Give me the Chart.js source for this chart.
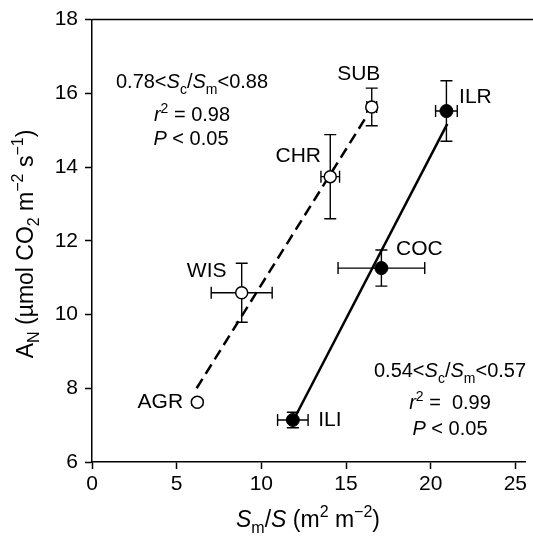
<!DOCTYPE html>
<html>
<head>
<meta charset="utf-8">
<script src="https://cdn.jsdelivr.net/npm/chart.js@4.4.0/dist/chart.umd.min.js"></script>
<style>
    html, body { margin: 0; padding: 0; background: #fff; }
</style>
</head>
<body>
<canvas id="chart" width="533" height="537"></canvas>
<script>
// Open symbols (dashed fit)
const openLabels = ['AGR', 'WIS', 'CHR', 'SUB'];
const openX = [6.22, 8.84, 14.07, 16.52];
const openY = [7.62, 10.59, 13.74, 15.63];
const openXErr = [0.12, 1.8, 0.55, 0.29];
const openYErr = [0.08, 0.8, 1.14, 0.51];

// Filled symbols (solid fit)
const filledLabels = ['ILI', 'COC', 'ILR'];
const filledX = [11.86, 17.09, 20.93];
const filledY = [7.14, 11.26, 15.52];
const filledXErr = [0.9, 2.56, 0.64];
const filledYErr = [0.21, 0.49, 0.82];

// Regression line end points
const dashedFitX = [6.18, 16.26];
const dashedFitY = [8.0, 15.41];
const solidFitX = [11.9, 20.98];
const solidFitY = [7.14, 15.17];

const xTicksStep = 5;
const yTicksStep = 2;

const FONT = "'Liberation Sans', Arial, sans-serif";

const toPoints = (xs, ys) => xs.map((x, i) => ({ x, y: ys[i] }));

// Text with italic / subscript / superscript pieces.
function drawRich(ctx, parts, x, y, size, align) {
    const small = Math.round(size * 0.7);
    const fontOf = p => `${p.it ? 'italic ' : ''}${(p.sub || p.sup) ? small : size}px ${FONT}`;
    let total = 0;
    parts.forEach((p) => {
        ctx.font = fontOf(p);
        p.w = ctx.measureText(p.t).width;
        total += p.w;
    });
    let cx = align === 'center' ? x - total / 2 : x;
    ctx.textAlign = 'left';
    ctx.textBaseline = 'alphabetic';
    parts.forEach((p) => {
        ctx.font = fontOf(p);
        let dy = 0;
        if (p.sub) dy = size * 0.28;
        if (p.sup) dy = -size * 0.42;
        ctx.fillText(p.t, cx, y + dy);
        cx += p.w;
    });
}

const decorPlugin = {
    id: 'decor',
    beforeDatasetsDraw(chart) {
        const { ctx, chartArea } = chart;
        const xs = chart.scales.x;
        const ys = chart.scales.y;
        ctx.save();
        // top frame line
        ctx.strokeStyle = '#000';
        ctx.lineWidth = 1.5;
        ctx.beginPath();
        ctx.moveTo(chartArea.left, chartArea.top);
        ctx.lineTo(chart.width, chartArea.top);
        ctx.stroke();

        // error bars
        const cap = 6;
        ctx.lineWidth = 1.4;
        const bars = (X, Y, XE, YE) => {
            X.forEach((x, i) => {
                const px = xs.getPixelForValue(x);
                const py = ys.getPixelForValue(Y[i]);
                const x1 = xs.getPixelForValue(x - XE[i]);
                const x2 = xs.getPixelForValue(x + XE[i]);
                const y1 = ys.getPixelForValue(Y[i] - YE[i]);
                const y2 = ys.getPixelForValue(Y[i] + YE[i]);
                ctx.beginPath();
                ctx.moveTo(x1, py); ctx.lineTo(x2, py);
                ctx.moveTo(x1, py - cap); ctx.lineTo(x1, py + cap);
                ctx.moveTo(x2, py - cap); ctx.lineTo(x2, py + cap);
                ctx.moveTo(px, y1); ctx.lineTo(px, y2);
                ctx.moveTo(px - cap, y1); ctx.lineTo(px + cap, y1);
                ctx.moveTo(px - cap, y2); ctx.lineTo(px + cap, y2);
                ctx.stroke();
            });
        };
        bars(openX, openY, openXErr, openYErr);
        bars(filledX, filledY, filledXErr, filledYErr);
        ctx.restore();
    },
    afterDraw(chart) {
        const { ctx } = chart;
        const xs = chart.scales.x;
        const ys = chart.scales.y;
        ctx.save();
        ctx.fillStyle = '#000';

        // point labels, offset in px from the point
        const offsets = {
            AGR: [-37, 0], WIS: [-35, -22], CHR: [-32, -20], SUB: [-13, -33],
            ILI: [37, 0], COC: [38, -19], ILR: [29, -14],
        };
        ctx.font = `21px ${FONT}`;
        ctx.textAlign = 'center';
        ctx.textBaseline = 'middle';
        const label = (L, X, Y) => L.forEach((l, i) => {
            const o = offsets[l];
            ctx.fillText(l, xs.getPixelForValue(X[i]) + o[0], ys.getPixelForValue(Y[i]) + o[1]);
        });
        label(openLabels, openX, openY);
        label(filledLabels, filledX, filledY);

        // statistics
        drawRich(ctx, [{ t: '0.78<' }, { t: 'S', it: true }, { t: 'c', sub: true }, { t: '/' },
            { t: 'S', it: true }, { t: 'm', sub: true }, { t: '<0.88' }], 192, 88, 20, 'center');
        drawRich(ctx, [{ t: 'r', it: true }, { t: '2', sup: true }, { t: ' = 0.98' }], 192, 121, 20, 'center');
        drawRich(ctx, [{ t: 'P', it: true }, { t: ' < 0.05' }], 191, 145, 20, 'center');

        drawRich(ctx, [{ t: '0.54<' }, { t: 'S', it: true }, { t: 'c', sub: true }, { t: '/' },
            { t: 'S', it: true }, { t: 'm', sub: true }, { t: '<0.57' }], 450, 377, 20, 'center');
        drawRich(ctx, [{ t: 'r', it: true }, { t: '2', sup: true }, { t: ' =  0.99' }], 450, 409, 20, 'center');
        drawRich(ctx, [{ t: 'P', it: true }, { t: ' < 0.05' }], 450, 435, 20, 'center');

        // axis titles
        drawRich(ctx, [{ t: 'S', it: true }, { t: 'm', sub: true }, { t: '/' }, { t: 'S', it: true },
            { t: ' (m' }, { t: '2', sup: true }, { t: ' m' }, { t: '\u22122', sup: true }, { t: ')' }], 308, 527, 23, 'center');

        ctx.translate(33, 244);
        ctx.rotate(-Math.PI / 2);
        drawRich(ctx, [{ t: 'A' }, { t: 'N', sub: true }, { t: ' (\u00b5mol CO' }, { t: '2', sub: true },
            { t: ' m' }, { t: '\u22122', sup: true }, { t: ' s' }, { t: '\u22121', sup: true }, { t: ')' }], 0, 0, 23, 'center');
        ctx.restore();
    },
};

const axisCommon = {
    type: 'linear',
    grid: {
        display: true,
        drawOnChartArea: false,
        drawTicks: true,
        tickLength: 7,
        tickColor: '#000',
        tickWidth: 1.5,
    },
    border: { display: true, color: '#000', width: 1.5 },
};

new Chart(document.getElementById('chart'), {
    type: 'scatter',
    data: {
        datasets: [
            {
                label: 'filled',
                data: toPoints(filledX, filledY),
                pointRadius: 6.5,
                pointBackgroundColor: '#000',
                pointBorderColor: '#000',
                pointBorderWidth: 1,
            },
            {
                label: 'open',
                data: toPoints(openX, openY),
                pointRadius: 6,
                pointBackgroundColor: '#fff',
                pointBorderColor: '#000',
                pointBorderWidth: 1.5,
            },
            {
                type: 'line',
                label: 'dashed fit',
                data: toPoints(dashedFitX, dashedFitY),
                borderColor: '#000',
                borderWidth: 2.5,
                borderDash: [11, 6],
                pointRadius: 0,
                fill: false,
            },
            {
                type: 'line',
                label: 'solid fit',
                data: toPoints(solidFitX, solidFitY),
                borderColor: '#000',
                borderWidth: 2.5,
                pointRadius: 0,
                fill: false,
            },
        ],
    },
    options: {
        responsive: false,
        animation: false,
        devicePixelRatio: 1,
        layout: { padding: { top: 17, right: 3, left: 0, bottom: 0 } },
        plugins: { legend: { display: false }, tooltip: { enabled: false } },
        scales: {
            x: {
                ...axisCommon,
                min: 0,
                max: 25.6,
                ticks: {
                    stepSize: xTicksStep,
                    includeBounds: false,
                    color: '#000',
                    padding: 3,
                    font: { family: FONT, size: 21 },
                },
                afterFit: (scale) => { scale.height = 75; },
            },
            y: {
                ...axisCommon,
                min: 6,
                max: 18,
                ticks: {
                    stepSize: yTicksStep,
                    color: '#000',
                    padding: 7,
                    font: { family: FONT, size: 21 },
                },
                afterFit: (scale) => { scale.width = 92; },
            },
        },
    },
    plugins: [decorPlugin],
});
</script>
</body>
</html>
